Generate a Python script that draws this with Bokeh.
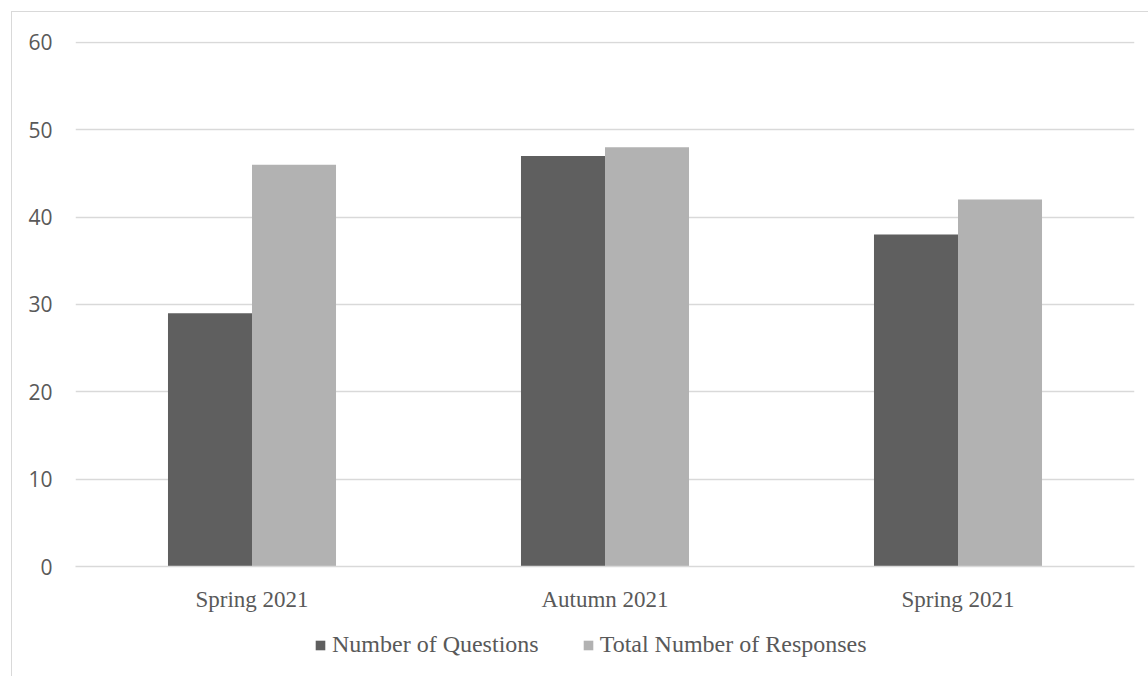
import numpy as np
from bokeh.plotting import figure
from bokeh.layouts import column
from bokeh.models import Range1d, FixedTicker, Legend, LegendItem
from bokeh.embed import file_html
from bokeh.resources import INLINE

categories = ["Spring 2021", "Autumn 2021", "Spring 2021"]
questions = [29, 47, 38]
responses = [46, 48, 42]
series_names = ["Number of Questions", "Total Number of Responses"]
y_ticks = [0, 10, 20, 30, 40, 50, 60]

DARK = "#5f5f5f"
LIGHT = "#b2b2b2"
GRID = "#d9d9d9"
TEXT = "#595959"

idx = np.arange(len(categories)) + 0.5
bw = 0.238

# main chart
p = figure(width=1137, height=610, output_backend="svg", toolbar_location=None,
           x_range=Range1d(0, len(categories)), y_range=Range1d(0, 60.1),
           min_border_left=63, min_border_right=15, min_border_top=29, min_border_bottom=56)
p.margin = (11, 0, 0, 11)
p.styles = {"border-left": "1.5px solid #d9d9d9", "border-top": "1.5px solid #d9d9d9"}
p.outline_line_color = None
p.background_fill_color = "white"
p.border_fill_color = "white"

p.vbar(x=idx - bw / 2, top=questions, width=bw, fill_color=DARK, line_color=None)
p.vbar(x=idx + bw / 2, top=responses, width=bw, fill_color=LIGHT, line_color=None)

p.xgrid.grid_line_color = None
p.ygrid.grid_line_color = GRID
p.ygrid.grid_line_width = 1.5
p.ygrid.ticker = FixedTicker(ticks=y_ticks)

p.yaxis.ticker = FixedTicker(ticks=y_ticks)
p.yaxis.axis_line_color = None
p.yaxis.major_tick_line_color = None
p.yaxis.minor_tick_line_color = None
p.yaxis.major_label_text_font = "Open Sans"
p.yaxis.major_label_text_font_size = "21px"
p.yaxis.major_label_text_color = TEXT
p.yaxis.major_label_standoff = 17

p.xaxis.ticker = FixedTicker(ticks=list(idx))
p.xaxis.major_label_overrides = {float(v): c for v, c in zip(idx, categories)}
p.xaxis.axis_line_color = GRID
p.xaxis.axis_line_width = 1.5
p.xaxis.major_tick_line_color = None
p.xaxis.minor_tick_line_color = None
p.xaxis.major_label_text_font = "Liberation Serif"
p.xaxis.major_label_text_font_size = "23px"
p.xaxis.major_label_text_color = TEXT
p.xaxis.major_label_standoff = 14

# legend strip (bars drawn outside its visible range, only the legend shows)
pl = figure(width=1137, height=55, output_backend="svg", toolbar_location=None,
            x_range=Range1d(0, len(categories)), y_range=Range1d(100, 101),
            x_axis_type=None, y_axis_type=None, min_border=0)
pl.margin = (0, 0, 0, 11)
pl.styles = {"border-left": "1.5px solid #d9d9d9"}
pl.outline_line_color = None
pl.xgrid.grid_line_color = None
pl.ygrid.grid_line_color = None
l1 = pl.vbar(x=idx - bw / 2, top=questions, width=bw, fill_color=DARK, line_color=None)
l2 = pl.vbar(x=idx + bw / 2, top=responses, width=bw, fill_color=LIGHT, line_color=None)

legend = Legend(items=[LegendItem(label=series_names[0], renderers=[l1]),
                       LegendItem(label=series_names[1], renderers=[l2])],
                orientation="horizontal", location=(239, 18))
legend.glyph_width = 12
legend.glyph_height = 12
legend.label_standoff = 6
legend.spacing = 43
legend.padding = 0
legend.margin = 0
legend.label_height = 24
legend.label_text_font = "Liberation Serif"
legend.label_text_font_size = "24px"
legend.label_text_color = TEXT
legend.border_line_color = None
legend.background_fill_alpha = 0
pl.add_layout(legend, "center")

layout = column(p, pl, spacing=0)
open("out.html", "w").write(file_html(layout, INLINE))
